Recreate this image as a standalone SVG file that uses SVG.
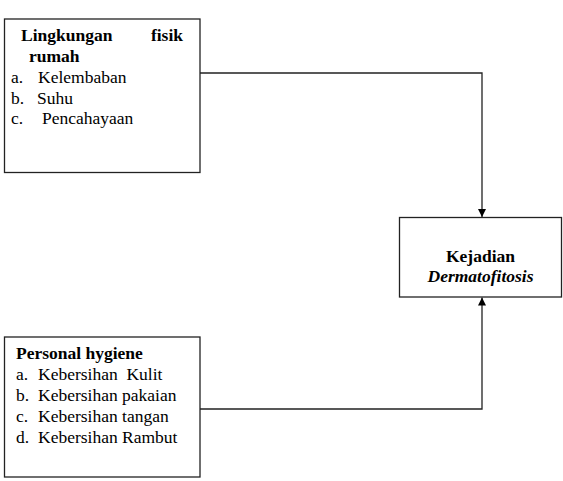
<svg xmlns="http://www.w3.org/2000/svg" width="563" height="481" viewBox="0 0 563 481">
<defs>
<style>
.box{fill:#fff;stroke:#222;stroke-width:1.3}
.t{font-family:"Liberation Serif","Times New Roman",serif;font-size:17.5px;fill:#000}
.b{font-weight:bold}
.i{font-style:italic}
.c{fill:none;stroke:#222;stroke-width:1.3}
</style>
<marker id="ah" viewBox="0 0 10 10" refX="10" refY="5" markerWidth="9" markerHeight="8" markerUnits="userSpaceOnUse" orient="auto">
<path d="M0,0 L10,5 L0,10 z" fill="#000"/>
</marker>
</defs>
<rect width="563" height="481" fill="#fff"/>
<g id="connectors">
<polyline class="c" points="200,73 482,73 482,217" marker-end="url(#ah)"/>
<polyline class="c" points="200,409 482,409 482,297.5" marker-end="url(#ah)"/>
</g>
<g id="node-lingkungan">
<rect class="box" x="4.5" y="19" width="195.5" height="153.5"/>
<text class="t b" x="21" y="41">Lingkungan</text>
<text class="t b" x="183" y="41" text-anchor="end">fisik</text>
<text class="t b" x="29" y="62">rumah</text>
<text class="t" x="11" y="83">a.</text><text class="t" x="38" y="83">Kelembaban</text>
<text class="t" x="11" y="103.5">b.</text><text class="t" x="37" y="103.5">Suhu</text>
<text class="t" x="11" y="124">c.</text><text class="t" x="42" y="124">Pencahayaan</text>
</g>
<g id="node-personal">
<rect class="box" x="4.5" y="337" width="195.5" height="140"/>
<text class="t b" x="16" y="359">Personal hygiene</text>
<text class="t" x="16" y="380">a.</text><text class="t" x="38" y="380">Kebersihan&#160; Kulit</text>
<text class="t" x="16" y="401">b.</text><text class="t" x="38" y="401">Kebersihan pakaian</text>
<text class="t" x="16" y="422">c.</text><text class="t" x="38" y="422">Kebersihan tangan</text>
<text class="t" x="16" y="443">d.</text><text class="t" x="38" y="443">Kebersihan Rambut</text>
</g>
<g id="node-kejadian">
<rect class="box" x="399.5" y="217.5" width="162" height="79.5"/>
<text class="t b" x="480.5" y="262" text-anchor="middle">Kejadian</text>
<text class="t b i" x="480.5" y="282" text-anchor="middle">Dermatofitosis</text>
</g>
</svg>
